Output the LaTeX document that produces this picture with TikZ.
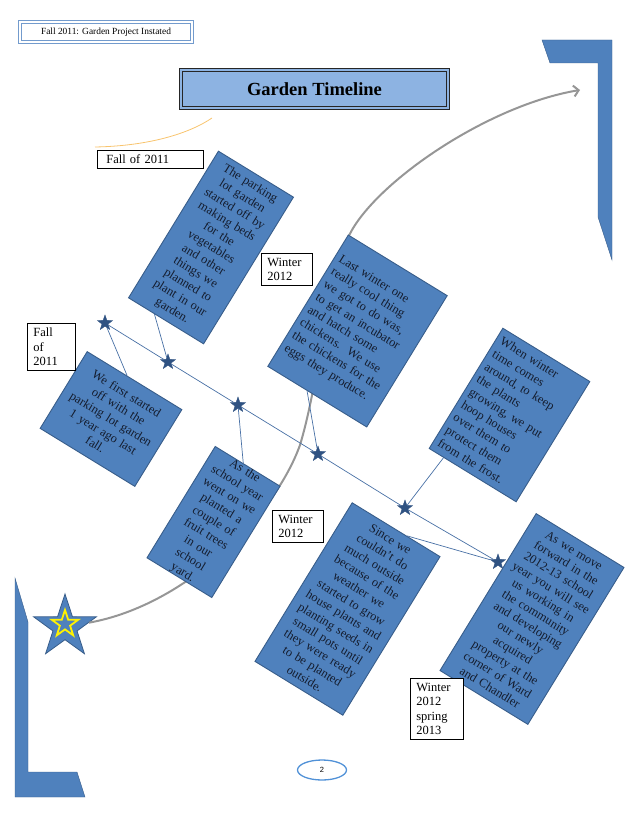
\documentclass[tikz,border=0pt]{standalone}
\usepackage{fontspec}
\setmainfont{Liberation Serif}
\setsansfont{Liberation Sans}
\usetikzlibrary{arrows.meta,calc,shapes.geometric}

\definecolor{boxblue}{RGB}{79,129,189}
\definecolor{boxedge}{RGB}{56,93,138}
\definecolor{starblue}{RGB}{47,82,130}
\definecolor{linkblue}{RGB}{72,112,165}
\definecolor{titleblue}{RGB}{141,179,226}
\definecolor{headblue}{RGB}{115,155,205}
\definecolor{arcgray}{RGB}{150,150,150}
\definecolor{inkdark}{RGB}{20,28,45}
\definecolor{curveorange}{RGB}{248,196,110}
\definecolor{pageblue}{RGB}{80,145,215}

\begin{document}
\begin{tikzpicture}[x=1pt, y=-1pt,
  box/.style={draw=boxedge, fill=boxblue, line width=0.9pt, rotate=-31.5, inner sep=0pt,
    text=inkdark, font=\fontsize{12.5}{14.9}\selectfont},
  lbl/.style={draw, fill=white, line width=0.7pt, anchor=north west, align=left,
    inner xsep=6pt, inner ysep=4.5pt, font=\fontsize{12.5}{14.5}\selectfont},
  tstar/.style={star, star points=5, star point ratio=2.5, fill=starblue, draw=starblue,
    minimum size=16pt, inner sep=0pt},
  link/.style={draw=linkblue, line width=0.7pt},
  arcline/.style={draw=arcgray, line width=2pt, -{Straight Barb[length=5pt,width=11pt]}}]
  \useasboundingbox (0,0) rectangle (638,826);

  % corner brackets
  \filldraw[fill=boxblue, draw=boxedge] (542,40) -- (612,40) -- (612,260) -- (598,217) -- (598,63) -- (550,63) -- cycle;
  \filldraw[fill=boxblue, draw=boxedge] (15,578) -- (28,622) -- (28,772) -- (77,772) -- (85,797) -- (15,797) -- cycle;
  \draw[curveorange, line width=0.8pt] (95,147) .. controls (150,146) and (190,133) .. (212,118);

  % star and arc
  \node[star, star points=5, star point ratio=2.6, minimum size=66pt, inner sep=0pt,
    fill=boxblue, draw=boxedge, line width=0.8pt] (bigstar) at (65,627) {};
  \node[star, star points=5, star point ratio=2.6, minimum size=28pt, inner sep=0pt,
    fill=boxblue, draw=yellow, line width=1.8pt] (innerstar) at (65,624) {};
  \coordinate (arrowtip) at (580,90);
  \draw[arcline] (bigstar) .. controls (187,605) and (275,515) .. (300,445)
    .. controls (321,375) and (327,273) .. (352,230)
    .. controls (382,178) and (490,105) .. (arrowtip);

  % headings
  \node[draw=black!85, double=titleblue, line width=1.1pt, double distance=1.5pt, fill=titleblue,
    minimum width=267pt, minimum height=38pt, font=\fontsize{18.5}{20}\selectfont\bfseries] (title) at (314.5,89) {Garden Timeline};
  \node[draw=headblue, double=white, line width=1.2pt, double distance=1.6pt,
    minimum width=172pt, minimum height=20pt, font=\fontsize{9.4}{11}\selectfont] (header) at (106,32) {Fall 2011: Garden Project Instated};
  \node[ellipse, draw=pageblue, line width=1.3pt, minimum width=49pt, minimum height=20pt,
    inner sep=0pt, font=\sffamily\fontsize{7.5}{9}\selectfont] (pagenum) at (322,770) {2};

  % timeline
  \node[tstar] (s1) at (105,323) {};
  \node[tstar] (s2) at (168,362) {};
  \node[tstar] (s3) at (238,405) {};
  \node[tstar] (s4) at (318,454) {};
  \node[tstar] (s5) at (405,508) {};
  \node[tstar] (s6) at (498,562) {};
  \draw[link] (s1) -- (s2) -- (s3) -- (s4) -- (s5) -- (s6);

  \node[box, minimum width=111pt, minimum height=90pt, text width=101pt, align=center] (firststart) at (111,419)
    {We first started\\off with the\\parking lot garden\\1 year ago last\\fall.};
  \node[box, minimum width=88pt, minimum height=172pt, text width=80pt, align=center] (parkinglot) at (211,247.5)
    {The parking\\lot garden\\started off by\\making beds\\for the\\vegetables\\and other\\things we\\planned to\\plant in our\\garden.};
  \node[box, minimum width=116pt, minimum height=154pt, text width=106pt, align=left] (chickens) at (357.5,331)
    {Last winter one\\really cool thing\\we got to do was,\\to get an incubator\\and hatch some\\chickens.\ \ We use\\the chickens for the\\eggs they produce.};
  \node[box, minimum width=102pt, minimum height=141pt, text width=92pt, align=left] (hoops) at (509.5,415)
    {When winter\\time comes\\around, to keep\\the plants\\growing, we put\\hoop houses\\over them to\\protect them\\from the frost.};
  \node[box, minimum width=76pt, minimum height=130pt, text width=70pt, align=center] (fruittrees) at (213.5,522)
    {As the\\school year\\went on we\\planted a\\couple of\\fruit trees\\in our\\school\\yard.};
  \node[box, minimum width=103pt, minimum height=186pt, text width=95pt, align=center] (seeds) at (347.5,609)
    {Since we\\couldn't do\\much outside\\because of the\\weather we\\started to grow\\house plants and\\planting seeds in\\small pots until\\they were ready\\to be planted\\outside.};
  \node[box, minimum width=103pt, minimum height=184pt, text width=95pt, align=center,
    font=\fontsize{12.5}{14.6}\selectfont] (community) at (532,619)
    {As we move\\forward in the\\2012-13 school\\year you will see\\us working in\\the community\\and developing\\our newly\\acquired\\property at the\\corner of Ward\\and Chandler};

  \draw[link] (s1) -- ($(firststart.north west)!0.42!(firststart.north east)$);
  \draw[link] ($(parkinglot.south west)!0.35!(parkinglot.south east)$) -- (s2);
  \draw[link] (s3) -- ($(fruittrees.north west)!0.43!(fruittrees.north east)$);
  \draw[link] ($(chickens.south west)!0.4!(chickens.south east)$) -- (s4);
  \draw[link] ($(hoops.south west)!0.17!(hoops.south east)$) -- (s5);
  \draw[link] ($(seeds.north west)!0.62!(seeds.north east)$) -- (s6);

  % dates
  \node[lbl, text width=88pt, inner xsep=9pt] (fallTop) at (97,150) {Fall of 2011};
  \node[lbl, text width=36pt] (fallLeft) at (27,323) {Fall\\of\\2011};
  \node[lbl, text width=39pt] (winterTop) at (261,253) {Winter\\2012};
  \node[lbl, text width=39pt] (winterLow) at (272,510) {Winter\\2012};
  \node[lbl, text width=41pt] (winterSpring) at (410,678) {Winter\\2012\\spring\\2013};
\end{tikzpicture}
\end{document}
